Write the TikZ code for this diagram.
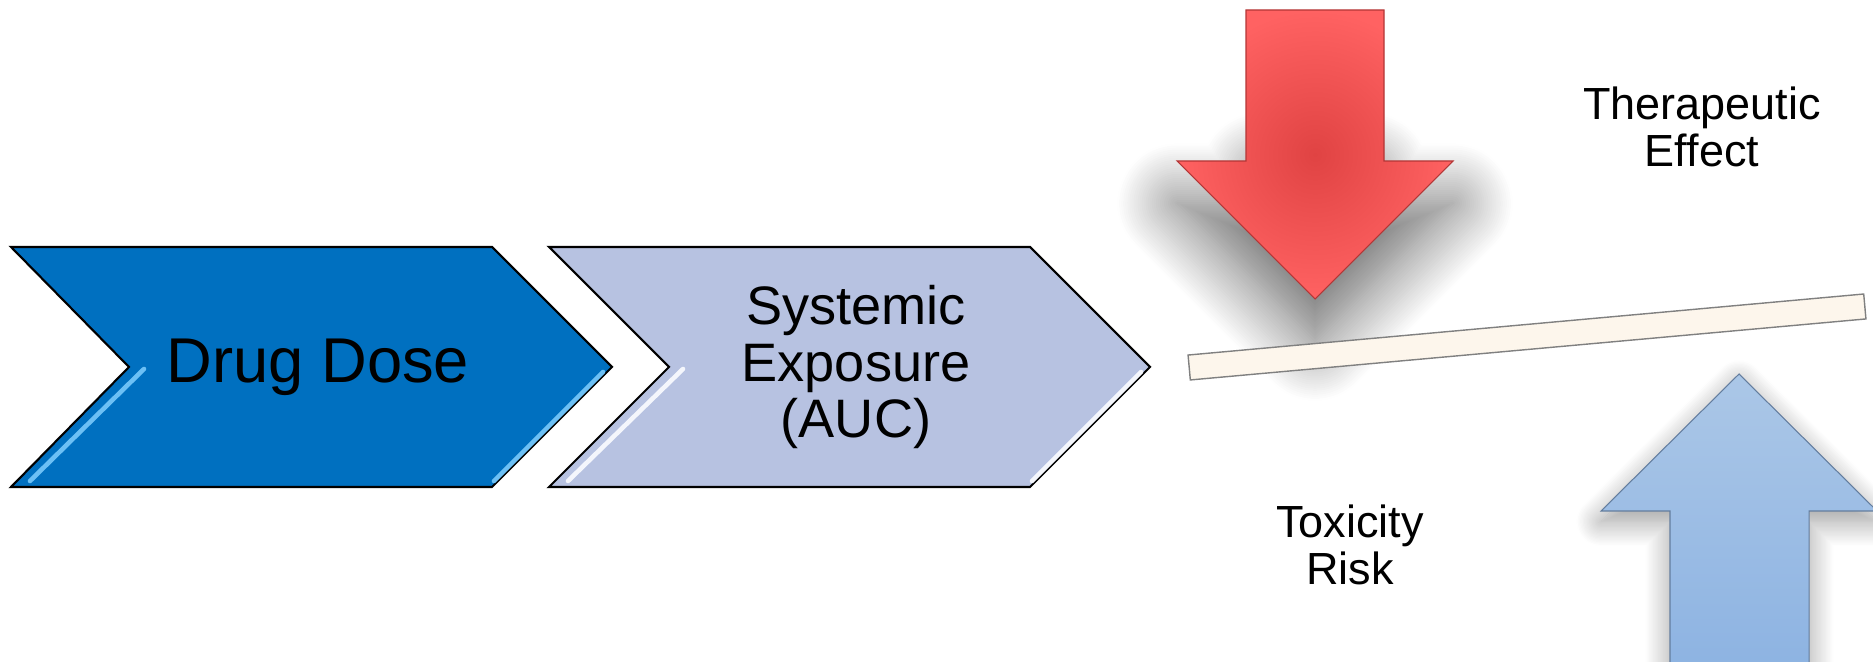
\documentclass[tikz,border=0pt]{standalone}
\usepackage{fontspec}
\setmainfont{Liberation Sans}
\usepackage{tikz}
\usetikzlibrary{shadows.blur}

\definecolor{doseblue}{HTML}{0070C0}
\definecolor{aucblue}{HTML}{B7C2E1}
\definecolor{doseshine}{HTML}{6CC0F5}
\definecolor{aucshine}{HTML}{F4F6FC}
\definecolor{redlight}{HTML}{FF6262}
\definecolor{reddark}{HTML}{E04343}
\definecolor{bluelight}{HTML}{ABC7E7}
\definecolor{bluedark}{HTML}{8DB3E2}
\definecolor{plankfill}{HTML}{FDF6EC}

\begin{document}
\begin{tikzpicture}[x=0.01cm, y=-0.01cm,
	chevron/.style={draw=black, line width=0.6pt, line join=miter},
	shine/.style={line width=1.3pt, line cap=round},
	bigtext/.style={font=\fontsize{18}{20}\selectfont, align=center, inner sep=0},
	midtext/.style={font=\fontsize{15.4}{16.2}\selectfont, align=center, inner sep=0},
	smalltext/.style={font=\fontsize{12.8}{13.5}\selectfont, align=center, inner sep=0},
	plank/.style={draw=black!50, line width=0.4pt, fill=plankfill, minimum width=6.78cm, minimum height=0.25cm, inner sep=0},
	bigarrow/.style={line width=0.3pt, line join=miter}
]
\clip (0,0) rectangle (1873,662);
% shadow of the red arrow head, under the beam
\path[blur shadow={shadow xshift=0pt, shadow yshift=-12pt, shadow blur radius=17pt, shadow opacity=60, shadow blur steps=30}]
	(1260,130) -- (1370,130) -- (1370,161) -- (1453,161) -- (1315,299) -- (1177,161) -- (1260,161) -- cycle;
% balance beam
\node[plank, rotate=5.16] (beam) at (1527,337) {};
% chevrons
\draw[chevron, fill=doseblue] (11,247) -- (492,247) -- (612,367) -- (492,487) -- (11,487) -- (129,367) -- cycle;
\draw[shine, doseshine] (144,369) -- (30,481);
\draw[shine, doseshine] (603,372) -- (494,481);
\node[bigtext] (dose) at (318,367) {Drug Dose};
\draw[chevron, fill=aucblue] (549,247) -- (1030,247) -- (1150,367) -- (1030,487) -- (549,487) -- (669,367) -- cycle;
\draw[shine, aucshine] (683,369) -- (568,481);
\draw[shine, aucshine] (1141,372) -- (1032,481);
\node[midtext] (auc) at (856,367) {Systemic\\Exposure\\(AUC)};
% arrows
\shade[bigarrow, draw=reddark!80!black, shading=radial, inner color=reddark, outer color=redlight]
	(1246,10) -- (1384,10) -- (1384,161) -- (1453,161) -- (1315,299) -- (1177,161) -- (1246,161) -- cycle;
\shade[bigarrow, draw=bluedark!70!black, top color=bluelight, bottom color=bluedark,
	blur shadow={shadow xshift=0pt, shadow yshift=-3pt, shadow blur radius=7pt, shadow opacity=40, shadow blur steps=20}]
	(1739,374) -- (1877,511) -- (1809,511) -- (1809,670) -- (1670,670) -- (1670,511) -- (1601,511) -- cycle;
% labels
\node[smalltext] (effect) at (1702,127) {Therapeutic\\Effect};
\node[smalltext] (toxicity) at (1350,545) {Toxicity\\Risk};
\end{tikzpicture}
\end{document}
